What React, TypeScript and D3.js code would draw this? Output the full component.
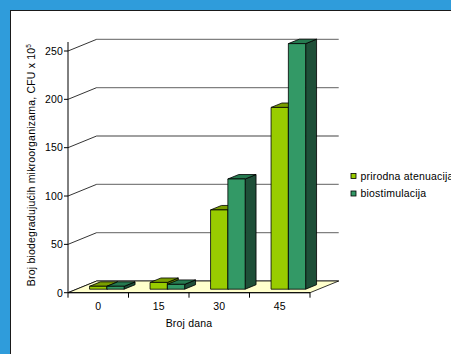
import React from "react";
import * as d3 from "d3";

// data
const categories = ["0", "15", "30", "45"];
const seriesNames = ["prirodna atenuacija", "biostimulacija"];
const prirodna = [3, 7, 82, 188];
const biostimulacija = [3, 5, 114, 254];
const yTicks = [0, 50, 100, 150, 200, 250];

const W = 451;
const H = 354;

// colors per series: front, top, side
const colors = [
  { front: "#99CC00", top: "#7A9E00", side: "#5E7A00" },
  { front: "#339966", top: "#267A50", side: "#1E4F38" },
];

const font = "'Liberation Sans', Arial, sans-serif";
const fs = 10.5;
const ls = 0.2;

const App = () => {
  // plot frame (front plane)
  const left = 68;
  const right = 310;
  const DX = 28.7; // depth offset of the back wall
  const DY = -11.7;

  const yScale = d3.scaleLinear().domain([0, 250]).range([292.7, 51]);
  const xScale = d3.scaleBand().domain(categories).range([left, right]);

  const bw = xScale.bandwidth() / 3.5; // gap width 150%
  const t0 = 0.3; // front of bars, as share of depth
  const t1 = 0.68; // back of bars

  const pts = (arr: number[][]) => arr.map((p) => p.join(",")).join(" ");

  const series = [prirodna, biostimulacija];

  const bars: JSX.Element[] = [];
  categories.forEach((c, ci) => {
    series.forEach((vals, si) => {
      const v = vals[ci];
      const x0 = (xScale(c) as number) + 0.75 * bw + si * bw + DX * t0;
      const x1 = x0 + bw;
      const yb = yScale(0) + DY * t0;
      const yt = yScale(v) + DY * t0;
      const ddx = DX * (t1 - t0);
      const ddy = DY * (t1 - t0);
      const col = colors[si];
      bars.push(
        <g key={`${ci}-${si}`} stroke="#000" strokeWidth={0.8} strokeLinejoin="round">
          <polygon
            points={pts([[x1, yb], [x1 + ddx, yb + ddy], [x1 + ddx, yt + ddy], [x1, yt]])}
            fill={col.side}
          />
          <polygon
            points={pts([[x0, yt], [x1, yt], [x1 + ddx, yt + ddy], [x0 + ddx, yt + ddy]])}
            fill={col.top}
          />
          <rect x={x0} y={yt} width={bw} height={yb - yt} fill={col.front} />
        </g>
      );
    });
  });

  return (
    <svg
      width={W}
      height={H}
      style={{ position: "absolute", left: 0, top: 0, display: "block" }}
      fontFamily={font}
      letterSpacing={ls}
    >
      <rect x={0} y={0} width={W} height={H} fill="#2F9CDB" />
      <rect x={10.5} y={10.5} width={W + 20} height={H + 20} fill="#fff" stroke="#1a1a1a" strokeWidth={1} />

      {/* back wall gridlines */}
      {yTicks.map((t) => (
        <line
          key={`g${t}`}
          x1={left + DX}
          x2={right + DX}
          y1={yScale(t) + DY}
          y2={yScale(t) + DY}
          stroke="#808080"
          strokeWidth={1.3}
        />
      ))}
      {/* side wall gridlines */}
      {yTicks.map((t) => (
        <line
          key={`s${t}`}
          x1={left}
          x2={left + DX}
          y1={yScale(t)}
          y2={yScale(t) + DY}
          stroke="#000"
          strokeWidth={0.8}
        />
      ))}

      {/* floor */}
      <polygon
        points={pts([
          [left, yScale(0)],
          [right, yScale(0)],
          [right + DX, yScale(0) + DY],
          [left + DX, yScale(0) + DY],
        ])}
        fill="#FFFFCC"
        stroke="#000"
        strokeWidth={0.8}
      />

      {bars}

      {/* y axis */}
      <line x1={left} x2={left} y1={yScale(0)} y2={42} stroke="#000" strokeWidth={1} />
      {yTicks.map((t) => (
        <g key={`yt${t}`}>
          <line x1={left - 4} x2={left} y1={yScale(t)} y2={yScale(t)} stroke="#000" strokeWidth={1} />
          <text x={left - 5} y={yScale(t) + 3.8} fontSize={fs} textAnchor="end" fill="#000">
            {t}
          </text>
        </g>
      ))}

      {/* x axis */}
      <line x1={left} x2={right} y1={yScale(0)} y2={yScale(0)} stroke="#000" strokeWidth={1} />
      {[...categories.map((c) => xScale(c) as number), right].map((x, i) => (
        <line key={`xt${i}`} x1={x} x2={x} y1={yScale(0)} y2={yScale(0) + 5} stroke="#000" strokeWidth={1} />
      ))}
      {categories.map((c) => (
        <text
          key={`xl${c}`}
          x={(xScale(c) as number) + xScale.bandwidth() / 2}
          y={309.8}
          fontSize={fs}
          textAnchor="middle"
          fill="#000"
        >
          {c}
        </text>
      ))}
      <text x={189} y={327} fontSize={fs} textAnchor="middle" fill="#000">
        Broj dana
      </text>

      {/* y axis title */}
      <text
        transform="translate(34.8,165) rotate(-90)"
        fontSize={fs}
        textAnchor="middle"
        fill="#000"
      >
        Broj biodegradujućih mikroorganizama, CFU x 10
        <tspan fontSize={6.5} dy={-4}>5</tspan>
      </text>

      {/* legend */}
      {seriesNames.map((n, i) => (
        <g key={n}>
          <rect
            x={351}
            y={173.5 + i * 17.5}
            width={5}
            height={5}
            fill={colors[i].front}
            stroke="#000"
            strokeWidth={0.8}
          />
          <text x={360.5} y={179.8 + i * 17.5} fontSize={fs} fill="#000">
            {n}
          </text>
        </g>
      ))}
    </svg>
  );
};

export default App;
